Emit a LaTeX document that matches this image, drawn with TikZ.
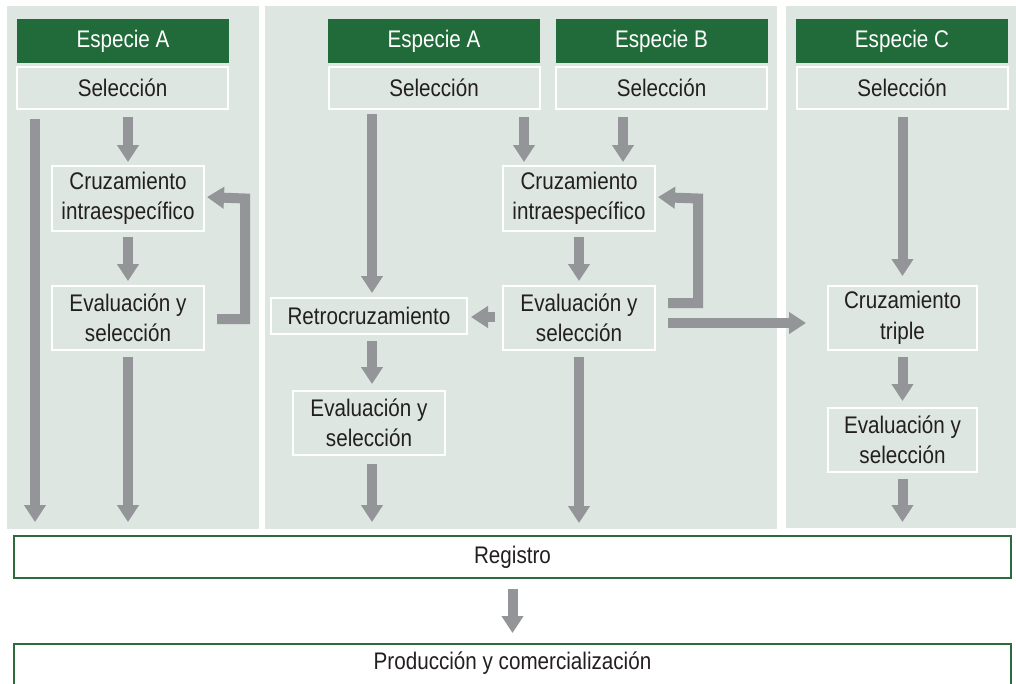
\documentclass[tikz,border=0pt]{standalone}
\usepackage{fontspec}
\setmainfont{Liberation Sans}[FakeStretch=0.86]
\usetikzlibrary{arrows.meta,calc}
\definecolor{panel}{HTML}{DDE6E0}
\definecolor{hdr}{HTML}{216B3A}
\definecolor{arrowc}{HTML}{939598}
\definecolor{txt}{HTML}{231F20}
\definecolor{bord}{HTML}{2E6B3C}
\newcommand{\diagfont}{\fontsize{24}{30.5}\selectfont}
\begin{document}
\begin{tikzpicture}[x=1pt,y=-1pt,
  panelbox/.style={fill=panel,draw=none},
  hdrbox/.style={fill=hdr,text=white,minimum width=212,minimum height=44,inner sep=0,font=\diagfont},
  selbox/.style={draw=white,line width=2pt,fill=panel,text=txt,minimum width=211,minimum height=42,inner sep=0,font=\diagfont},
  stepbox/.style={draw=white,line width=2pt,fill=panel,text=txt,minimum width=152,minimum height=64,inner sep=0,align=center,font=\diagfont},
  outbox/.style={draw=bord,line width=2pt,fill=white,text=txt,minimum width=997,inner sep=0,font=\diagfont},
  arr/.style={draw=arrowc,line width=10pt,line join=miter,-{Triangle[width=21pt,length=17pt]}}]
\useasboundingbox (0,0) rectangle (1016,683);
\clip (0,0) rectangle (1016,683);
% panels
\fill[panel] (7,6) rectangle (259,529);
\fill[panel] (265,6) rectangle (777,529);
\fill[panel] (786,6) rectangle (1016,528);
% left panel
\node[hdrbox] (hL) at (123,41) {Especie A};
\node[selbox] (selL) at (122.5,88) {Selección};
\node[stepbox,minimum height=65] (cruzL) at (128,198.5) {Cruzamiento\\intraespecífico};
\node[stepbox] (evalL) at (128,318) {Evaluación y\\selección};
% middle panel
\node[hdrbox] (hMA) at (434,41) {Especie A};
\node[selbox] (selMA) at (434,88) {Selección};
\node[hdrbox] (hMB) at (661.5,41) {Especie B};
\node[selbox] (selMB) at (661.5,88) {Selección};
\node[stepbox,minimum height=65] (cruzM) at (579,198.5) {Cruzamiento\\intraespecífico};
\node[stepbox] (evalM) at (579,318) {Evaluación y\\selección};
\node[stepbox,minimum width=196,minimum height=36] (retro) at (369,316) {Retrocruzamiento};
\node[stepbox] (evalR) at (369,423) {Evaluación y\\selección};
% right panel
\node[hdrbox] (hC) at (902,41) {Especie C};
\node[selbox] (selC) at (902,88) {Selección};
\node[stepbox,minimum width=149] (triple) at (902.5,318) {Cruzamiento\\triple};
\node[stepbox,minimum width=149] (evalC) at (902.5,440) {Evaluación y\\selección};
% bottom
\node[outbox,minimum height=42] (reg) at (512.5,557) {Registro};
\node[outbox,minimum height=80,anchor=north] (prod) at (512.5,643) {};
\node[text=txt,font=\diagfont] (prodt) at (512.5,663) {Producción y comercialización};
% helper coordinates
\coordinate (lx) at ([xshift=19pt]selL.south west);
\coordinate (mx) at ([xshift=3pt]retro.north);
\coordinate (ax) at ([xshift=-55pt]cruzM.north);
\coordinate (bx) at ([xshift=44pt]cruzM.north);
\coordinate (fbL) at (245,0);
\coordinate (fbM) at (698,0);
\coordinate (rA) at ([yshift=-5pt]evalM.east);
\coordinate (fM) at ([yshift=15pt]evalM.east);
% left arrows
\draw[arr,shorten <=9pt,shorten >=13pt] (lx) -- (lx |- reg.north);
\draw[arr,shorten <=7pt,shorten >=3pt] (selL.south -| cruzL.north) -- (cruzL.north);
\draw[arr,shorten <=5pt,shorten >=4pt] (cruzL.south) -- (evalL.north);
\draw[arr,shorten <=6pt,shorten >=13pt] (evalL.south) -- (evalL.south |- reg.north);
\draw[arr,shorten <=12pt,shorten >=2pt] ([yshift=-1pt]evalL.east) -| (fbL |- cruzL.east) -- ([yshift=1.5pt]cruzL.east);
% middle arrows
\draw[arr,shorten <=4pt,shorten >=4pt] (mx |- selMA.south) -- (mx);
\draw[arr,shorten <=7pt,shorten >=3pt] (ax |- selMA.south) -- (ax);
\draw[arr,shorten <=7pt,shorten >=3pt] (bx |- selMB.south) -- (bx);
\draw[arr,shorten <=5pt,shorten >=4pt] (cruzM.south) -- (evalM.north);
\draw[arr,shorten <=6pt,shorten >=12pt] (evalM.south) -- (evalM.south |- reg.north);
\draw[arr,shorten <=12pt,shorten >=2pt] (fM) -| (fbM |- cruzM.east) -- ([yshift=1.5pt]cruzM.east);
\draw[arr,shorten <=12pt,shorten >=21pt] (rA) -- (rA -| triple.west);
\draw[arr,shorten <=7pt,shorten >=3pt] ([yshift=1pt]evalM.west) -- ([yshift=1pt]evalM.west -| retro.east);
\draw[arr,shorten <=6pt,shorten >=6pt] (mx |- retro.south) -- (mx |- evalR.north);
\draw[arr,shorten <=8pt,shorten >=13pt] (mx |- evalR.south) -- (mx |- reg.north);
% right arrows
\draw[arr,shorten <=7pt,shorten >=9pt] (selC.south -| triple.north) -- (triple.north);
\draw[arr,shorten <=6pt,shorten >=6pt] (triple.south) -- (evalC.north);
\draw[arr,shorten <=6pt,shorten >=13pt] (evalC.south) -- (evalC.south |- reg.north);
% registro to produccion
\draw[arr,shorten <=10pt,shorten >=10pt] (reg.south) -- (prod.north);
\end{tikzpicture}
\end{document}
